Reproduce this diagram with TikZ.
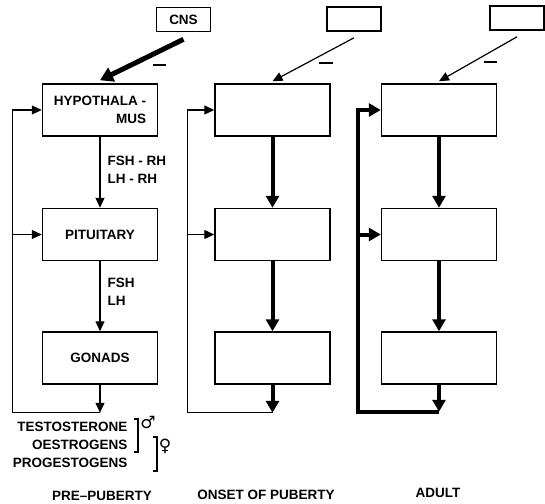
\documentclass[tikz,border=0pt]{standalone}
\usepackage{fontspec}
\setmainfont{Liberation Sans}
\newfontfamily\signfont{DejaVu Sans}
\usetikzlibrary{arrows.meta, positioning}

\begin{document}
\begin{tikzpicture}[x=1pt, y=-1pt, font=\bfseries\fontsize{13.5}{18}\selectfont,
    organ/.style={draw, line width=1.5pt, minimum width=115pt, minimum height=52pt, inner sep=0pt},
    inbox/.style={draw, line width=1.6pt, minimum width=54pt, minimum height=24pt, inner sep=0pt},
    thinarrow/.style={line width=1.2pt, -{Triangle[length=10pt,width=9pt]}},
    heavyarrow/.style={line width=4pt, -{Triangle[length=12pt,width=13pt]}},
    minus/.style={inner sep=0pt}]
    \useasboundingbox (0,0) rectangle (545,503);

    % inputs
    \node[inbox] (cns) at (183.5,19.5) {CNS};
    \node[inbox] (inp2) at (354,19) {};
    \node[inbox] (inp3) at (517,18) {};

    % pre-puberty
    \node[organ, align=right] (hyp1) at (100,110) {HYPOTHALA -\\MUS};
    \node[organ, below=71pt of hyp1] (pit1) {PITUITARY};
    \node[organ, below=70pt of pit1] (gon1) {GONADS};
    % onset of puberty
    \node[organ, right=56pt of hyp1] (hyp2) {};
    \node[organ, below=71pt of hyp2] (pit2) {};
    \node[organ, below=70pt of pit2] (gon2) {};
    % adult
    \node[organ, right=50pt of hyp2] (hyp3) {};
    \node[organ, below=71pt of hyp3] (pit3) {};
    \node[organ, below=70pt of pit3] (gon3) {};

    \coordinate (out1) at ([yshift=-28pt]gon1.south);
    \coordinate (out2) at ([yshift=-28pt]gon2.south);
    \coordinate (out3) at ([yshift=-27pt]gon3.south);
    \coordinate (fb1) at ([xshift=-29pt]gon1.west |- out1);
    \coordinate (fb2) at ([xshift=-27pt]gon2.west |- out2);
    \coordinate (fb3) at ([xshift=-23pt]gon3.west |- out3);

    % CNS inhibition
    \draw[line width=5pt, -{Triangle[length=13pt,width=15pt]}] ([yshift=-7pt]cns.south) -- ([yshift=3pt]hyp1.north);
    \draw[thinarrow] ([yshift=-6pt]inp2.south) -- ([yshift=2pt]hyp2.north);
    \draw[thinarrow] ([yshift=-6pt]inp3.south) -- ([yshift=2pt]hyp3.north);
    \node[minus] (neg1) at (159,65) {\rule{13pt}{1.8pt}};
    \node[minus] (neg2) at (326,63) {\rule{14pt}{1.8pt}};
    \node[minus] (neg3) at (490,62) {\rule{13pt}{1.8pt}};

    \draw[thinarrow] (hyp1.south) -- (pit1.north);
    \draw[thinarrow] (pit1.south) -- (gon1.north);
    \draw[thinarrow] (gon1.south) -- (out1);
    \draw[thinarrow] (out1) -- (fb1) |- (hyp1.west);
    \draw[thinarrow] (fb1 |- pit1.west) -- (pit1.west);

    \draw[heavyarrow] (hyp2.south) -- (pit2.north);
    \draw[heavyarrow] (pit2.south) -- (gon2.north);
    \draw[heavyarrow] (gon2.south) -- (out2);
    \draw[thinarrow] (out2) -- (fb2) |- (hyp2.west);
    \draw[thinarrow] (fb2 |- pit2.west) -- (pit2.west);

    \draw[heavyarrow] (hyp3.south) -- (pit3.north);
    \draw[heavyarrow] (pit3.south) -- (gon3.north);
    \draw[heavyarrow] (gon3.south) -- (out3);
    \draw[heavyarrow] (out3) -- (fb3) |- (hyp3.west);
    \draw[heavyarrow] (fb3 |- pit3.west) -- (pit3.west);

    \node[anchor=west, align=left] (rh) at (104,170) {FSH - RH\\LH - RH};
    \node[anchor=west, align=left] (gt) at (104,292) {FSH\\LH};

    % steroids
    \node[anchor=east, align=right] (horm) at (131,445) {TESTOSTERONE\\OESTROGENS\\PROGESTOGENS};
    \draw[line width=2pt] (134,419) -| (138,452) -- (134,452);
    \draw[line width=2pt] (153,437) -| (157,471) -- (153,471);
    \node[font=\signfont\bfseries\fontsize{17}{17}\selectfont] (male) at (148,422) {♂};
    \node[font=\signfont\bfseries\fontsize{17}{17}\selectfont] (female) at (165,446) {♀};

    \node (pre) at (102,496) {PRE–PUBERTY};
    \node (onset) at (266,495) {ONSET OF PUBERTY};
    \node (adult) at (438,493) {ADULT};
\end{tikzpicture}
\end{document}
